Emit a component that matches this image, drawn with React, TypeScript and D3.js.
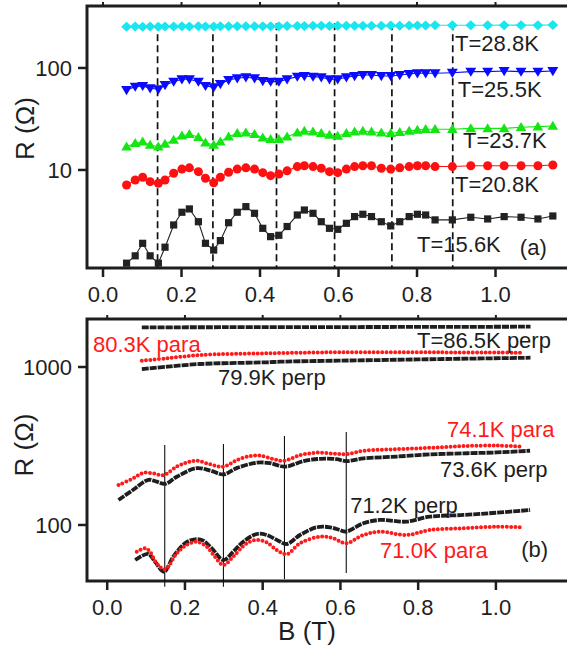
import React, { useRef, useEffect } from 'react';
import * as d3 from 'd3';

// ---- panel (a): markers, shared field grid (T)
const bA = [0.060, 0.082, 0.101, 0.120, 0.141, 0.158, 0.180, 0.201, 0.220, 0.243,
  0.261, 0.282, 0.299, 0.320, 0.342, 0.364, 0.386, 0.407, 0.427, 0.448,
  0.469, 0.495, 0.513, 0.535, 0.556, 0.577, 0.598, 0.620, 0.641, 0.662,
  0.684, 0.709, 0.733, 0.756, 0.780, 0.801, 0.822, 0.846, 0.890, 0.937,
  0.980, 1.022, 1.065, 1.108, 1.146];
const r156 = [1.22, 1.44, 1.91, 1.44, 1.22, 1.75, 2.89, 3.85, 4.15, 3.11,
  1.91, 1.64, 2.03, 3.04, 3.85, 4.37, 3.76, 2.68, 2.22, 2.29,
  2.79, 3.62, 4.05, 3.76, 3.11, 2.68, 2.62, 3.0, 3.49, 3.68,
  3.49, 3.11, 2.83, 3.11, 3.49, 3.68, 3.62, 3.24, 3.24, 3.44,
  3.31, 3.49, 3.44, 3.31, 3.54];
const r208 = [7.13, 7.98, 8.48, 7.68, 7.41, 7.98, 9.29, 10.2, 10.5, 9.62,
  8.3, 7.5, 8.48, 9.5, 10.2, 10.5, 10.2, 9.41, 8.8, 9.14,
  9.8, 10.8, 11.0, 10.8, 10.4, 9.62, 9.41, 10.2, 10.8, 11.0,
  11.0, 10.4, 10.2, 10.5, 10.8, 11.0, 11.0, 10.8, 10.8, 11.0,
  11.0, 11.0, 11.0, 11.0, 11.2];
const r237 = [16.9, 18.3, 18.9, 17.6, 16.9, 18.0, 19.7, 21.7, 22.4, 20.9,
  18.5, 17.6, 18.9, 21.2, 22.9, 23.2, 22.4, 20.7, 20.0, 20.0,
  21.2, 23.2, 24.1, 23.7, 22.9, 22.0, 21.5, 22.9, 23.7, 24.1,
  23.7, 23.2, 22.9, 23.4, 24.1, 24.7, 25.1, 25.1, 25.1, 25.6,
  25.6, 25.6, 26.2, 26.6, 27.0];
const r255 = [60.8, 65.6, 66.7, 63.2, 61.8, 68.1, 73.4, 77.4, 77.4, 73.4,
  66.7, 64.7, 69.7, 76.2, 79.3, 81.1, 79.3, 74.6, 73.4, 73.4,
  77.4, 82.2, 83.5, 82.2, 81.1, 77.4, 77.4, 81.1, 83.5, 85.4,
  85.4, 83.5, 83.5, 85.4, 87.4, 88.7, 88.7, 88.7, 89.9, 92.0,
  92.0, 93.5, 92.0, 92.0, 93.5];
const r288 = [254, 255, 254, 255, 254, 255, 255, 256, 255, 256,
  255, 255, 256, 256, 257, 256, 257, 256, 257, 257,
  258, 258, 258, 259, 259, 258, 259, 259, 260, 260,
  260, 260, 261, 260, 261, 261, 261, 262, 262, 262,
  262, 263, 263, 263, 264];
const dashB = [0.139, 0.280, 0.442, 0.590, 0.736, 0.891];

// ---- panel (b): traces
const p865B = [0.089, 0.3, 0.6, 0.9, 1.089];
const p865R = [1782, 1786, 1790, 1795, 1800];
const a803B = [0.089, 0.154, 0.239, 0.411, 0.6, 0.85, 1.07];
const a803R = [1096, 1135, 1191, 1221, 1240, 1238, 1232];
const p799B = [0.089, 0.154, 0.239, 0.411, 0.445, 0.703, 0.874, 1.089];
const p799R = [971, 1004, 1045, 1071, 1080, 1107, 1124, 1145];
const a741B = [0.029, 0.068, 0.093, 0.119, 0.145, 0.179, 0.205, 0.231, 0.265, 0.299,
  0.334, 0.368, 0.394, 0.428, 0.454, 0.497, 0.540, 0.583, 0.615, 0.660,
  0.746, 0.831, 0.917, 1.003, 1.070];
const a741R = [179, 198, 214, 212, 207, 234, 249, 255, 242, 234,
  258, 273, 275, 261, 255, 277, 287, 283, 281, 295,
  302, 308, 316, 318, 313];
const p736B = [0.029, 0.067, 0.106, 0.127, 0.149, 0.179, 0.230, 0.265, 0.299, 0.333,
  0.385, 0.419, 0.458, 0.505, 0.547, 0.590, 0.614, 0.659, 0.745, 0.830,
  0.916, 1.002, 1.088];
const p736R = [144, 167, 193, 188, 182, 202, 229, 221, 209, 229,
  248, 246, 234, 254, 262, 261, 254, 264, 271, 280,
  284, 288, 295];
const p712B = [0.072, 0.089, 0.106, 0.123, 0.146, 0.170, 0.200, 0.226, 0.247, 0.269,
  0.299, 0.324, 0.350, 0.385, 0.410, 0.440, 0.462, 0.496, 0.539, 0.573,
  0.598, 0.614, 0.659, 0.702, 0.770, 0.830, 0.916, 1.002, 1.088];
const p712R = [60, 63.7, 65.5, 58.6, 50.6, 63, 76.6, 81.2, 79.6, 71.2,
  60, 67.7, 78.4, 87.7, 86.4, 79.6, 75.8, 86.4, 96.7, 96.7,
  92.9, 90.7, 102.5, 107.6, 105, 112.9, 115.7, 119.6, 124.4];
const a710B = [0.076, 0.097, 0.110, 0.127, 0.149, 0.179, 0.204, 0.230, 0.256, 0.277,
  0.299, 0.324, 0.359, 0.385, 0.410, 0.436, 0.462, 0.496, 0.547, 0.582,
  0.614, 0.659, 0.702, 0.770, 0.830, 0.916, 1.002, 1.069];
const a710R = [67.7, 71.2, 67.7, 57.2, 52.5, 66.2, 74.7, 78.4, 72.9, 63,
  55.8, 63, 76.6, 80.4, 77.8, 69.5, 65.3, 76.6, 84.3, 82.4,
  76.6, 86.4, 90.7, 86.4, 92.9, 95.3, 97.5, 96.7];
// vertical guides: field, upper R, lower R
const guideB = [0.148, 0.299, 0.456, 0.615];
const guideTop = [321, 326, 366, 388];
const guideBottom = [40.6, 40.6, 45.5, 49.6];

const xTicks = [0, 0.2, 0.4, 0.6, 0.8, 1.0];
const yTicksA = [10, 100];
const yTicksB = [100, 1000];

const FONT = '"Liberation Sans", Arial, Helvetica, sans-serif';
const INK = '#1e1e1e';
const RED = '#ff1a1a';

const shapes: Record<string, string> = {
  square: 'M-3.6,-3.6h7.2v7.2h-7.2z',
  up: 'M0,-5.2L5.3,3.8L-5.3,3.8Z',
  down: 'M0,5.2L5.5,-4L-5.5,-4Z',
  diamond: 'M0,-5L5.4,0L0,5L-5.4,0Z',
};

const App = () => {
  const ref = useRef<SVGSVGElement>(null);

  useEffect(() => {
    const svg = d3.select(ref.current);
    svg.selectAll('*').remove();

    const left = 87;
    const drawFrame = (x: any, y: any, top: number, bottom: number, yTicks: number[]) => {
      const g = svg.append('g');
      g.append('rect').attr('x', left).attr('y', top).attr('width', 520).attr('height', bottom - top)
        .attr('fill', 'none').attr('stroke', INK).attr('stroke-width', 3);
      xTicks.forEach(t => {
        g.append('line').attr('x1', x(t)).attr('x2', x(t)).attr('y1', bottom).attr('y2', bottom + 9)
          .attr('stroke', INK).attr('stroke-width', 2.5);
        g.append('line').attr('x1', x(t)).attr('x2', x(t)).attr('y1', top).attr('y2', top - 4)
          .attr('stroke', INK).attr('stroke-width', 2);
        g.append('text').attr('x', x(t)).attr('y', bottom + 34).attr('text-anchor', 'middle')
          .attr('font-family', FONT).attr('font-size', 22).attr('fill', INK).text(t.toFixed(1));
      });
      yTicks.forEach(t => {
        g.append('line').attr('x1', left).attr('x2', left - 9).attr('y1', y(t)).attr('y2', y(t))
          .attr('stroke', INK).attr('stroke-width', 2.5);
        g.append('text').attr('x', 72).attr('y', y(t) + 8).attr('text-anchor', 'end')
          .attr('font-family', FONT).attr('font-size', 22).attr('fill', INK).text(String(t));
      });
      return g;
    };

    const label = (g: any, px: number, py: number, txt: string, color: string) =>
      g.append('text').attr('x', px).attr('y', py).attr('font-family', FONT)
        .attr('font-size', 22).attr('fill', color).text(txt);

    // ---------- panel (a)
    const xa = d3.scaleLinear().domain([-0.0408, 1.2025]).range([87, 575]);
    const ya = d3.scaleLog().domain([1.094, 405]).range([268, 6]);
    const ga = drawFrame(xa, ya, 6, 268, yTicksA);

    dashB.forEach(b => {
      ga.append('line').attr('x1', xa(b)).attr('x2', xa(b)).attr('y1', ya(275)).attr('y2', ya(1.094))
        .attr('stroke', '#111').attr('stroke-width', 1.7).attr('stroke-dasharray', '7 4');
    });

    const seriesA = [
      { r: r288, color: '#19e6ee', shape: 'diamond', name: 'T=28.8K', lb: 0.897, lr: 146.8 },
      { r: r255, color: '#0a0aff', shape: 'down', name: 'T=25.5K', lb: 0.904, lr: 52.0 },
      { r: r237, color: '#14e614', shape: 'up', name: 'T=23.7K', lb: 0.917, lr: 16.4 },
      { r: r208, color: '#ff1010', shape: 'circle', name: 'T=20.8K', lb: 0.897, lr: 6.08 },
      { r: r156, color: '#222222', shape: 'square', name: 'T=15.6K', lb: 0.80, lr: 1.57 },
    ];
    const lineA = d3.line<number>().x((_, i) => xa(bA[i])).y(d => ya(d));
    seriesA.forEach(s => {
      ga.append('path').attr('d', lineA(s.r)).attr('fill', 'none')
        .attr('stroke', s.color).attr('stroke-width', 1.1);
      s.r.forEach((v, i) => {
        if (s.shape === 'circle') {
          ga.append('circle').attr('cx', xa(bA[i])).attr('cy', ya(v)).attr('r', 4.5).attr('fill', s.color);
        } else {
          ga.append('path').attr('d', shapes[s.shape])
            .attr('transform', `translate(${xa(bA[i])},${ya(v)})`).attr('fill', s.color);
        }
      });
    });
    seriesA.forEach(s => label(ga, xa(s.lb), ya(s.lr), s.name, INK));
    label(ga, xa(1.062), ya(1.47), '(a)', INK);

    svg.append('text').attr('transform', 'translate(34,128.5) rotate(-90)').attr('text-anchor', 'middle')
      .attr('font-family', FONT).attr('font-size', 26).attr('fill', INK).text('R (Ω)');

    // ---------- panel (b)
    const xb = d3.scaleLinear().domain([-0.052, 1.2035]).range([87, 575]);
    const yb = d3.scaleLog().domain([44.2, 2013]).range([581, 319]);
    const gb = drawFrame(xb, yb, 319, 581, yTicksB);

    guideB.forEach((b, i) => {
      gb.append('line').attr('x1', xb(b)).attr('x2', xb(b)).attr('y1', yb(guideTop[i])).attr('y2', yb(guideBottom[i]))
        .attr('stroke', '#111').attr('stroke-width', 1.1);
    });

    const trace = (bs: number[], rs: number[], para: boolean) => {
      const line = d3.line<number>().x((_, i) => xb(bs[i])).y(d => yb(d))
        .curve(d3.curveCatmullRom.alpha(0.5));
      const p = gb.append('path').attr('d', line(rs)).attr('fill', 'none');
      if (para) {
        p.attr('stroke', RED).attr('stroke-width', 4).attr('stroke-linecap', 'round')
          .attr('stroke-dasharray', '0 4.3');
      } else {
        p.attr('stroke', INK).attr('stroke-width', 3.8).attr('stroke-dasharray', '7 1');
      }
    };
    trace(p865B, p865R, false);
    trace(p799B, p799R, false);
    trace(a803B, a803R, true);
    trace(p736B, p736R, false);
    trace(a741B, a741R, true);
    trace(p712B, p712R, false);
    trace(a710B, a710R, true);

    label(gb, xb(-0.0365), yb(1244), '80.3K para', RED);
    label(gb, xb(0.797), yb(1319), 'T=86.5K perp', INK);
    label(gb, xb(0.285), yb(769), '79.9K perp', INK);
    label(gb, xb(0.874), yb(360), '74.1K para', RED);
    label(gb, xb(0.856), yb(201), '73.6K perp', INK);
    label(gb, xb(0.625), yb(119), '71.2K perp', INK);
    label(gb, xb(0.702), yb(61.8), '71.0K para', RED);
    label(gb, xb(1.065), yb(62.7), '(b)', INK);

    svg.append('text').attr('transform', 'translate(33,445) rotate(-90)').attr('text-anchor', 'middle')
      .attr('font-family', FONT).attr('font-size', 26).attr('fill', INK).text('R (Ω)');
    svg.append('text').attr('x', 307).attr('y', 640).attr('text-anchor', 'middle')
      .attr('font-family', FONT).attr('font-size', 26).attr('fill', INK).text('B (T)');
  }, []);

  return (
    <svg ref={ref} width={567} height={651}
      style={{ position: 'absolute', left: 0, top: 0, background: '#fff' }} />
  );
};

export default App;
